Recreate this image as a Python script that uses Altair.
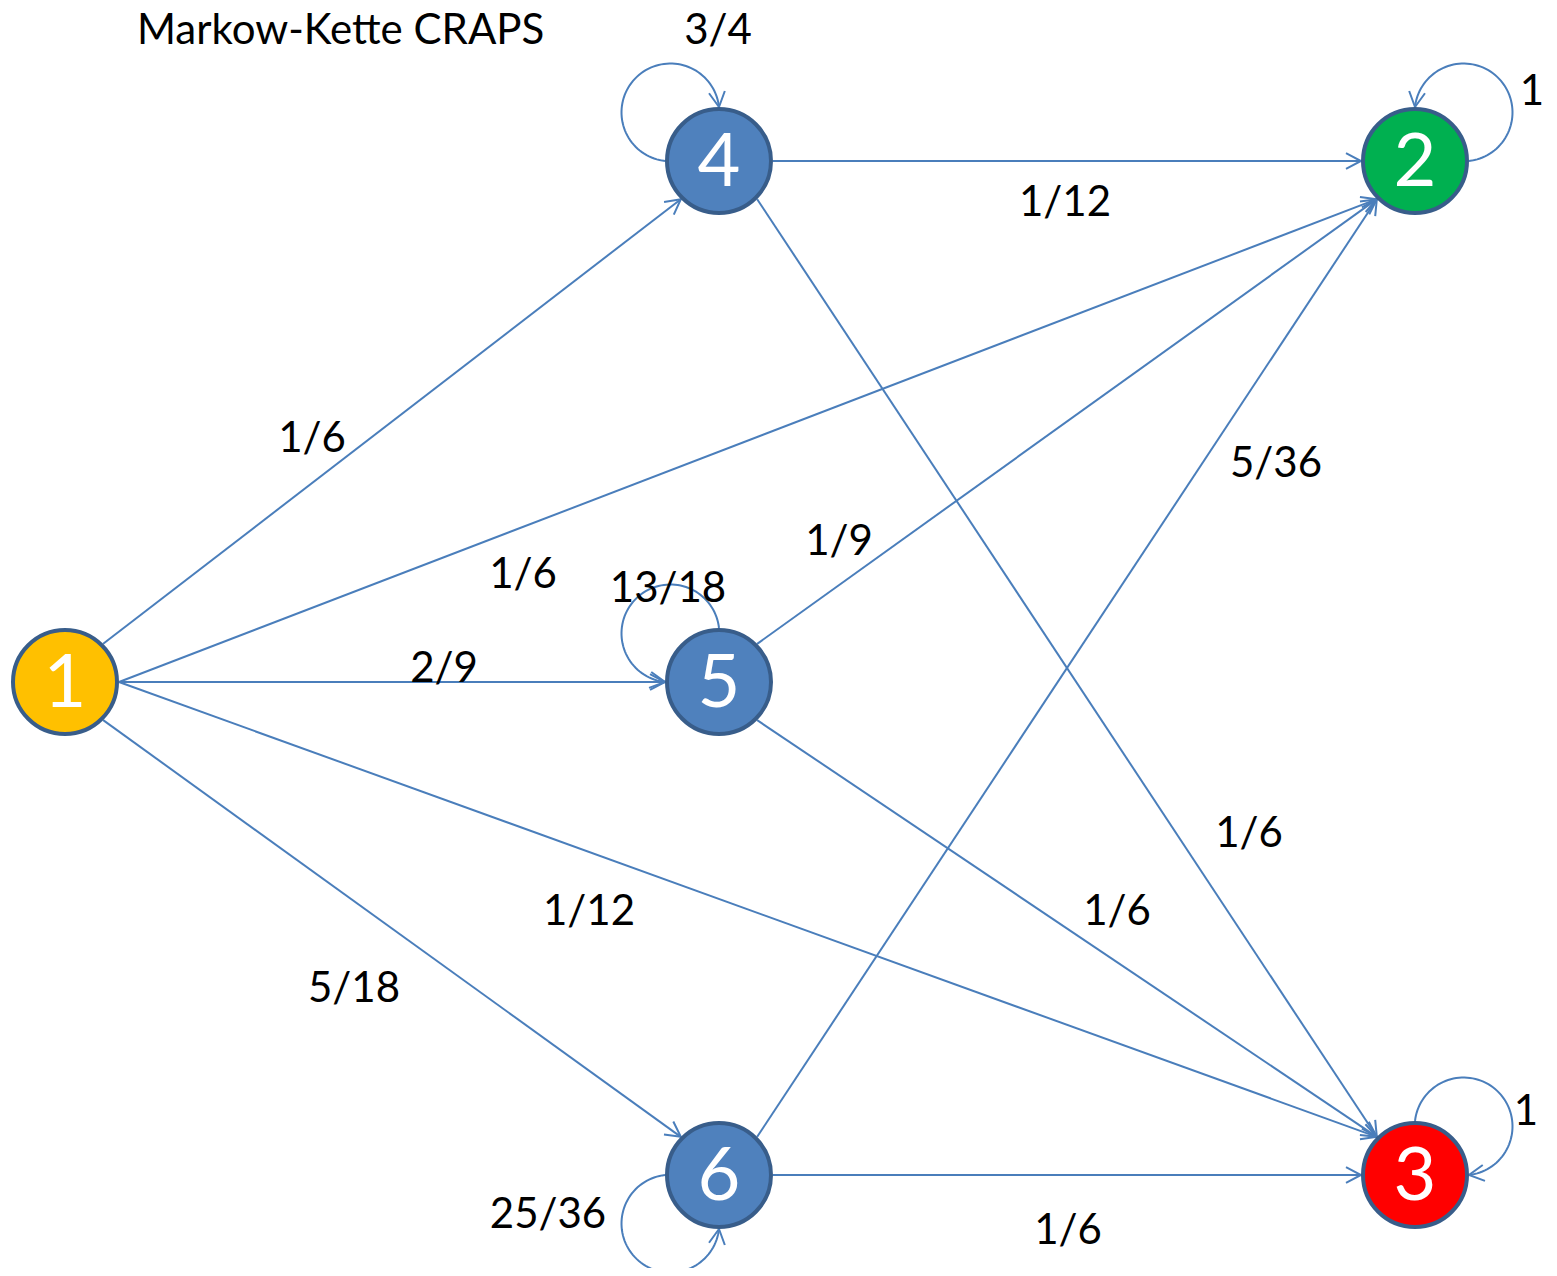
import math
import numpy as np
import pandas as pd
import altair as alt

# ---------------- data ----------------
node_ids = ["1", "2", "3", "4", "5", "6"]
node_x = [65, 1415, 1415, 719, 719, 719]
node_y = [682, 161, 1175, 161, 682, 1175]
node_fill = ["#FFC000", "#00B050", "#FF0000", "#4F81BD", "#4F81BD", "#4F81BD"]

edge_src = ["1", "1", "1", "1", "1", "4", "4", "5", "5", "6", "6"]
edge_dst = ["4", "2", "5", "3", "6", "2", "3", "2", "3", "2", "3"]
edge_src_port = ["NE", "E", "E", "E", "SE", "E", "SE", "NE", "SE", "NE", "E"]
edge_dst_port = ["SW", "SW", "W", "NW", "NW", "W", "NW", "SW", "NW", "SW", "W"]

loop_node = ["4", "2", "3", "6", "5"]
loop_start = ["W", "E", "N", "W", "N"]
loop_end = ["N", "N", "E", "S", "W"]

label_text = ["1/6", "1/6", "2/9", "1/12", "5/18", "1/12", "1/6", "1/9", "1/6",
              "5/36", "1/6", "3/4", "1", "1", "25/36", "13/18"]
label_x = [312, 523, 444, 589, 354, 1065, 1249, 839, 1117,
           1276, 1068, 718, 1532, 1526, 548, 668]
label_y = [437, 573, 667, 910, 987, 201, 832, 540, 910,
           462, 1229, 29, 90, 1110, 1213, 587]

title_text = ["Markow-Kette CRAPS"]
title_x = [137]
title_y = [29]

# ---------------- geometry ----------------
R = 54
s2 = math.sqrt(0.5)
ports = {"E": (1, 0), "W": (-1, 0), "N": (0, -1), "S": (0, 1),
         "NE": (s2, -s2), "NW": (-s2, -s2), "SE": (s2, s2), "SW": (-s2, s2)}
pos = {n: (x, y) for n, x, y in zip(node_ids, node_x, node_y)}

def port_pt(n, p):
    cx, cy = pos[n]
    ux, uy = ports[p]
    return cx + R * ux, cy + R * uy

rows = []
def add_line(gid, pts):
    for k, (x, y) in enumerate(pts):
        rows.append({"gid": gid, "k": k, "x": x, "y": y})

AL, AT = 17, math.radians(28)
def add_arrow(gid, tip, d):
    dx, dy = d
    n = math.hypot(dx, dy)
    dx, dy = dx / n, dy / n
    wings = []
    for s in (1, -1):
        c, si = math.cos(s * AT), math.sin(s * AT)
        rx, ry = dx * c - dy * si, dx * si + dy * c
        wings.append((tip[0] - AL * rx, tip[1] - AL * ry))
    add_line(gid + "_a", [wings[0], tip, wings[1]])

for i, (s, t, ps, pt) in enumerate(zip(edge_src, edge_dst, edge_src_port, edge_dst_port)):
    a = port_pt(s, ps)
    b = port_pt(t, pt)
    add_line(f"e{i}", [a, b])
    add_arrow(f"e{i}", b, (b[0] - a[0], b[1] - a[1]))

kf = 0.9
for i, (n, ps, pe) in enumerate(zip(loop_node, loop_start, loop_end)):
    cx, cy = pos[n]
    us, ue = ports[ps], ports[pe]
    Lx = cx + kf * R * (us[0] + ue[0])
    Ly = cy + kf * R * (us[1] + ue[1])
    sp = port_pt(n, ps)
    ep = port_pt(n, pe)
    rad = math.hypot(sp[0] - Lx, sp[1] - Ly)
    a_s = math.atan2(sp[1] - Ly, sp[0] - Lx)
    a_e = math.atan2(ep[1] - Ly, ep[0] - Lx)
    span = (a_e - a_s) % (2 * math.pi)
    if span < math.pi:
        span = span - 2 * math.pi
    angs = a_s + np.linspace(0, 1, 80) * span
    pts = [(Lx + rad * math.cos(a), Ly + rad * math.sin(a)) for a in angs]
    add_line(f"l{i}", pts)
    add_arrow(f"l{i}", pts[-1], (pts[-1][0] - pts[-2][0], pts[-1][1] - pts[-2][1]))

df_lines = pd.DataFrame(rows)
df_nodes = pd.DataFrame({"id": node_ids, "x": node_x, "y": node_y, "fill": node_fill})
df_labels = pd.DataFrame({"t": label_text, "x": label_x, "y": label_y})
df_title = pd.DataFrame({"t": title_text, "x": title_x, "y": title_y})

xs = alt.Scale(domain=[8, 1549])
ys = alt.Scale(domain=[8, 1268], reverse=True)
X = lambda: alt.X("x:Q", scale=xs, axis=None)
Y = lambda: alt.Y("y:Q", scale=ys, axis=None)

lines = alt.Chart(df_lines).mark_line(color="#4A7EBB", strokeWidth=2, clip=False).encode(
    x=X(), y=Y(), detail="gid:N", order="k:Q")

nodes = alt.Chart(df_nodes).mark_circle(size=104 * 104, stroke="#385D8A", strokeWidth=4,
                                        opacity=1, fillOpacity=1).encode(
    x=X(), y=Y(), fill=alt.Fill("fill:N", scale=None))

node_txt = alt.Chart(df_nodes).mark_text(font="Lato", fontSize=74, color="white",
                                         baseline="middle", align="center", dy=3).encode(
    x=X(), y=Y(), text="id:N")

lab = alt.Chart(df_labels).mark_text(font="Lato", fontSize=42, color="black",
                                     baseline="middle", align="center", dy=2).encode(
    x=X(), y=Y(), text="t:N")

title = alt.Chart(df_title).mark_text(font="Lato", fontSize=42, color="black",
                                      baseline="middle", align="left", dy=2).encode(
    x=X(), y=Y(), text="t:N")

chart = alt.layer(lines, nodes, node_txt, lab, title).properties(
    width=1541, height=1260, autosize="none", padding=0
).configure_view(stroke=None)

chart.save("out.html", embed_options={"renderer": "svg", "actions": False})
